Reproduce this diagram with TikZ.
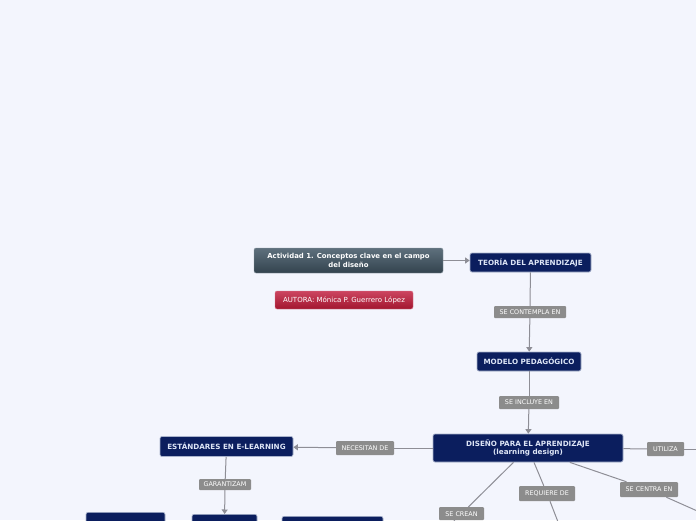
\documentclass[tikz,border=0pt]{standalone}
\usepackage{fontspec}
\setmainfont{DejaVu Sans}
\usetikzlibrary{arrows.meta}
\definecolor{bg}{HTML}{F3F5FD}
\definecolor{navyc}{HTML}{0B1E5E}
\definecolor{navyb}{HTML}{A9B3CC}
\definecolor{navyt}{HTML}{DDE5F6}
\definecolor{lblc}{HTML}{8C8C8C}
\definecolor{linec}{HTML}{8E8E96}
\definecolor{acttop}{HTML}{5E707D}
\definecolor{actbot}{HTML}{33434E}
\definecolor{redtop}{HTML}{CC4560}
\definecolor{redbot}{HTML}{A2162F}
\begin{document}
\begin{tikzpicture}[x=1pt,y=-1pt,
  navy/.style={rectangle, rounded corners=2pt, fill=navyc, draw=navyb, line width=0.7pt,
    text=navyt, font=\fontsize{7.2}{8.4}\selectfont\bfseries, inner sep=0pt, align=center},
  lbl/.style={rectangle, rounded corners=1pt, fill=lblc, text=white,
    font=\fontsize{6.4}{7}\selectfont, inner sep=0pt},
  conn/.style={draw=linec, line width=1pt},
  arr/.style={conn, -{Triangle[width=6pt,length=4.5pt]}}]
\useasboundingbox (0,0) rectangle (696,520);
\clip (0,0) rectangle (696,520);
\fill[bg] (0,0) rectangle (696,520);

% main nodes
\node[rectangle, rounded corners=2pt, top color=acttop, bottom color=actbot, draw=acttop!70,
  text=white, font=\fontsize{6.9}{8.4}\selectfont\bfseries, align=center, inner sep=0pt,
  minimum width=189pt, minimum height=25pt] (act) at (348.5,260.5)
  {Actividad 1. Conceptos clave en el campo\\del diseño};
\node[rectangle, rounded corners=2pt, top color=redtop, bottom color=redbot, draw=redtop!70,
  text=white, font=\fontsize{7}{8}\selectfont, inner sep=0pt,
  minimum width=138pt, minimum height=18pt] (autora) at (344,300)
  {AUTORA: Mónica P. Guerrero López};
\node[navy, minimum width=121pt, minimum height=19pt] (teoria) at (530.5,262.5) {TEORÍA DEL APRENDIZAJE};
\node[navy, minimum width=104pt, minimum height=19pt] (modelo) at (529,361.5) {MODELO PEDAGÓGICO};
\node[navy, minimum width=190pt, minimum height=28pt] (diseno) at (528,448)
  {DISEÑO PARA EL APRENDIZAJE\\(learning design)};
\node[navy, minimum width=133pt, minimum height=20pt] (estandares) at (226.5,446.5) {ESTÁNDARES EN E-LEARNING};
\node[navy, minimum width=79pt, minimum height=20pt, anchor=north] (b1) at (125.5,512) {};
\node[navy, minimum width=65pt, minimum height=20pt, anchor=north] (b2) at (224.5,514) {};
\node[navy, minimum width=101pt, minimum height=20pt, anchor=north] (b3) at (332.5,516) {};

% off-canvas ends
\coordinate (eutiliza) at (740,449);
\coordinate (ecentra) at (740,530);
\coordinate (erequiere) at (565,540);
\coordinate (ecrean) at (440,535);

% labels
\node[lbl, minimum width=72pt, minimum height=12pt] (contempla) at (530,312) {SE CONTEMPLA EN};
\node[lbl, minimum width=60pt, minimum height=13pt] (incluye) at (529,402.5) {SE INCLUYE EN};
\node[lbl, minimum width=58pt, minimum height=14pt] (necesitan) at (365,448) {NECESITAN DE};
\node[lbl, minimum width=52pt, minimum height=11pt] (garantizam) at (225,484.5) {GARANTIZAM};
\node[lbl, minimum width=37pt, minimum height=14pt] (utiliza) at (665.5,449) {UTILIZA};
\node[lbl, minimum width=58pt, minimum height=15pt] (centra) at (649,489.5) {SE CENTRA EN};
\node[lbl, minimum width=56pt, minimum height=15pt] (requiere) at (547,493.5) {REQUIERE DE};
\node[lbl, minimum width=45pt, minimum height=13pt, anchor=north] (crean) at (461.5,507) {SE CREAN};

% connectors
\draw[arr] (act.east) -- (teoria.west |- act.east);
\draw[conn] (teoria) -- (contempla);
\draw[arr] (contempla) -- (modelo);
\draw[conn] (modelo) -- (incluye);
\draw[arr] (incluye) -- (diseno);
\draw[conn] (diseno) -- (necesitan);
\draw[arr] (necesitan) -- (estandares);
\draw[conn] (estandares) -- (garantizam);
\draw[arr] (garantizam) -- (b2);
\draw[conn] (diseno) -- (utiliza);
\draw[conn] (utiliza) -- (eutiliza);
\draw[conn] (diseno) -- (centra);
\draw[conn] (centra) -- (ecentra);
\draw[conn] (diseno) -- (requiere);
\draw[conn] (requiere) -- (erequiere);
\draw[conn] (diseno) -- (crean);
\draw[conn] (crean) -- (ecrean);
\end{tikzpicture}
\end{document}
